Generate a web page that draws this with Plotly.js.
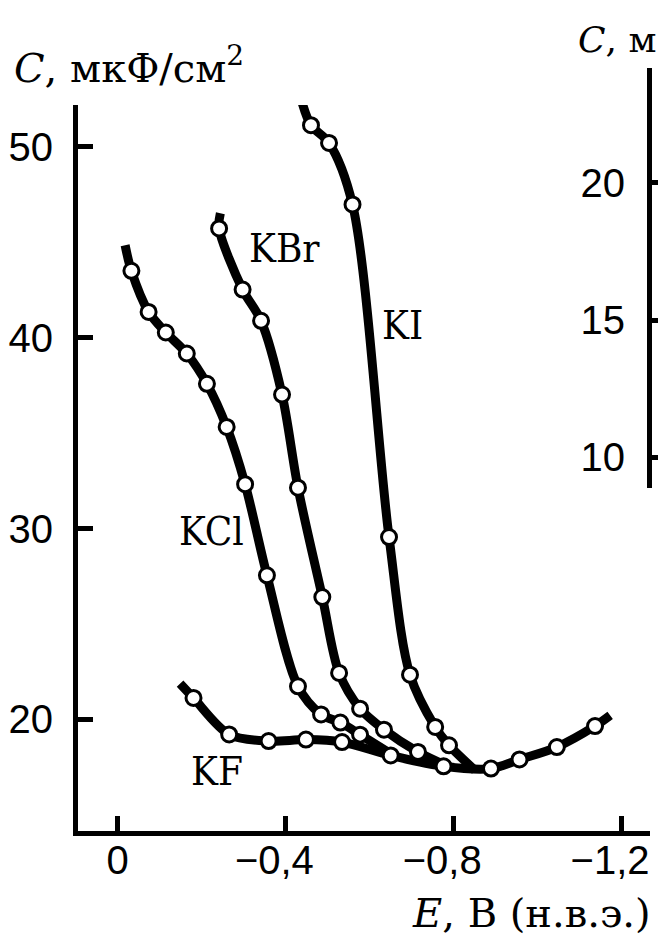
<!DOCTYPE html>
<html>
<head>
<meta charset="utf-8">
<script src="https://cdn.plot.ly/plotly-3.0.1.min.js"></script>
<style>
  html, body { margin: 0; padding: 0; background: #fff; overflow: hidden; }
  #chart { width: 658px; height: 948px; }
</style>
</head>
<body>
<div id="chart"></div>
<script>
// ---- data (E in V, C in µF/cm²) ----
const xTickVals = [0, -0.4, -0.8, -1.2];
const xTickText = ["\u00a0\u00a00", "\u22120,4", "\u22120,8", "\u22121,2"];
const yTickVals = [20, 30, 40, 50];
const y2TickVals = [10, 15, 20];

const seriesNames = ["KCl", "KBr", "KI", "KF"];

// measured points (circles)
const kclE = [-0.033, -0.074, -0.115, -0.165, -0.213, -0.260, -0.304, -0.356, -0.430, -0.485, -0.531, -0.578];
const kclC = [43.50, 41.35, 40.27, 39.17, 37.58, 35.32, 32.32, 27.55, 21.73, 20.26, 19.83, 19.20];
const kbrE = [-0.242, -0.298, -0.342, -0.392, -0.430, -0.488, -0.528, -0.578, -0.635, -0.716];
const kbrC = [45.72, 42.52, 40.88, 37.02, 32.14, 26.41, 22.43, 20.56, 19.46, 18.29];
const kiE = [-0.461, -0.504, -0.560, -0.647, -0.697, -0.757, -0.790];
const kiC = [51.13, 50.20, 46.98, 29.55, 22.34, 19.60, 18.64];
const kfE = [-0.181, -0.266, -0.360, -0.449, -0.535, -0.651, -0.777, -0.890, -0.958, -1.047, -1.138];
const kfC = [21.12, 19.21, 18.86, 18.94, 18.81, 18.11, 17.54, 17.42, 17.90, 18.55, 19.65];

// where each drawn curve begins and ends
const kclEnds = { E: [-0.018, -0.662], C: [44.84, 18.05] };
const kbrEnds = { E: [-0.245, -0.793], C: [46.52, 17.48] };
const kiEnds  = { E: [-0.437, -0.852], C: [52.53, 17.33] };
const kfEnds  = { E: [-0.149, -1.174], C: [21.87, 20.21] };

// label positions of the curves
const labelE = [-0.224, -0.397, -0.680, -0.237];
const labelC = [29.86, 44.71, 40.67, 17.29];

// ---- build traces ----
const pts = [[kclE, kclC, kclEnds], [kbrE, kbrC, kbrEnds], [kiE, kiC, kiEnds], [kfE, kfC, kfEnds]];
const lineTraces = pts.map((p, i) => ({
  type: "scatter", mode: "lines", name: seriesNames[i],
  x: [p[2].E[0], ...p[0], p[2].E[1]],
  y: [p[2].C[0], ...p[1], p[2].C[1]],
  line: { color: "#000", width: 9, shape: "spline", smoothing: 0.9 },
  hoverinfo: "skip", showlegend: false
}));
const markerTraces = pts.map((p, i) => ({
  type: "scatter", mode: "markers", name: seriesNames[i],
  x: p[0], y: p[1],
  marker: { size: 15, color: "#fff", line: { color: "#000", width: 3 } },
  showlegend: false
}));
const dummy = { type: "scatter", mode: "markers", x: [], y: [], xaxis: "x2", yaxis: "y2", showlegend: false };

const serif = "DejaVu Serif, serif";
const sans = "Liberation Sans, Arial, sans-serif";

const annotations = seriesNames.map((n, i) => ({
  text: n, x: labelE[i], y: labelC[i], xref: "x", yref: "y",
  showarrow: false, xanchor: "center", yanchor: "middle",
  font: { family: "DejaVu Serif Condensed, DejaVu Serif, serif", size: 40, color: "#000" }
}));
annotations.push({
  text: "<i>C</i>, мкФ/см<sup>2</sup>", xref: "paper", yref: "paper",
  x: -0.116, y: 1.004, xanchor: "left", yanchor: "middle", showarrow: false,
  font: { family: serif, size: 40, color: "#000" }
});
annotations.push({
  text: "<i>E</i>, В (н.в.э.)", xref: "paper", yref: "paper",
  x: 1.006, y: -0.108, xanchor: "right", yanchor: "middle", showarrow: false,
  font: { family: serif, size: 40, color: "#000" }
});
annotations.push({
  text: "<i>C</i>, м", xref: "paper", yref: "paper",
  x: 0.872, y: 1.038, xanchor: "left", yanchor: "middle", showarrow: false,
  font: { family: serif, size: 36, color: "#000" }, borderpad: 0
});

const layout = {
  width: 658, height: 948,
  margin: { l: 78, r: 8, t: 68, b: 117, pad: 0 },
  paper_bgcolor: "#fff", plot_bgcolor: "rgba(0,0,0,0)",
  showlegend: false,
  xaxis: {
    range: [0.0943, -1.269], domain: [0, 1],
    tickvals: xTickVals, ticktext: xTickText,
    ticks: "inside", ticklen: 15, tickwidth: 5, tickcolor: "#000",
    showline: true, linewidth: 5, linecolor: "#000",
    showgrid: false, zeroline: false,
    tickfont: { family: sans, size: 40, color: "#000" },
    ticklabelstandoff: -10, ticklabelshift: 11, ticklabeloverflow: "allow"
  },
  yaxis: {
    range: [14.15, 52.19], domain: [0, 0.9515],
    tickvals: yTickVals,
    ticks: "inside", ticklen: 15, tickwidth: 5, tickcolor: "#000",
    showline: true, linewidth: 5, linecolor: "#000",
    showgrid: false, zeroline: false,
    tickfont: { family: sans, size: 40, color: "#000" },
    ticklabelstandoff: 12
  },
  xaxis2: { domain: [0.95, 1], anchor: "y2", visible: false, range: [0, 1] },
  yaxis2: {
    domain: [0.4493, 1], anchor: "free", position: 0.9983, side: "left",
    range: [8.88, 24.17],
    tickvals: y2TickVals,
    ticks: "inside", ticklen: 15, tickwidth: 5, tickcolor: "#000",
    showline: true, linewidth: 5, linecolor: "#000",
    showgrid: false, zeroline: false,
    tickfont: { family: sans, size: 40, color: "#000" },
    ticklabelstandoff: 14
  },
  annotations: annotations
};

Plotly.newPlot("chart", [...lineTraces, ...markerTraces, dummy], layout, { staticPlot: true, displayModeBar: false });
</script>
</body>
</html>
